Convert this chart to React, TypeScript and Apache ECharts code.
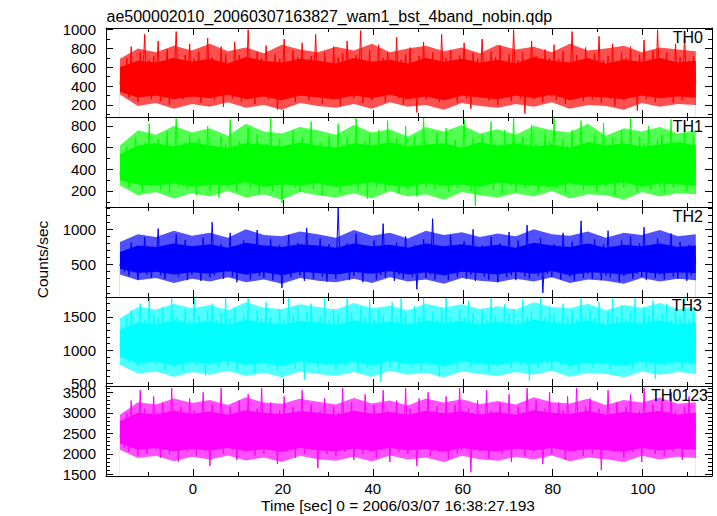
import React, { useEffect, useRef } from "react";
import * as echarts from "echarts";

// time of first bin and bin width (sec)
const T_START = -16.2;
const T_STEP = 0.5;
// dense core / fuzzy envelope of each light curve, sampled every 4 sec
const ENV_STEP = 4;

const th0 = [
  420, 610, 330, 700, 280, 820, 350, 640, 230, 760, 410, 950, 300, 680, 260, 720,
  390, 880, 240, 610, 330, 790, 200, 700, 450, 980, 310, 640, 260, 730, 380, 850,
  280, 690, 350, 770, 220, 600, 420, 910, 300, 710, 250, 650, 370, 820, 180, 740,
  330, 640, 270, 870, 400, 730, 240, 680, 310, 1000, 360, 620, 210, 760, 290, 700,
  440, 830, 260, 650, 320, 740, 150, 690, 380, 900, 270, 620, 340, 780, 230, 710,
  300, 860, 420, 640, 250, 720, 330, 950, 280, 670, 210, 760, 390, 630, 260, 820,
  340, 700, 190, 750, 300, 880, 410, 620, 270, 730, 350, 990, 220, 660, 310, 780,
  250, 640, 380, 840, 290, 700, 230, 760, 420, 610, 330, 920, 270, 680, 200, 740,
  360, 810, 280, 650, 120, 720, 340, 870, 260, 690, 400, 760, 300, 640, 230, 950,
  310, 700, 260, 780, 380, 620, 220, 730, 330, 860, 270, 670, 160, 750, 350, 690,
  280, 900, 410, 640, 250, 770, 320, 710, 200, 830, 370, 620, 290, 740, 240, 1000,
  340, 680, 270, 760, 110, 650, 390, 880, 260, 720, 310, 630, 230, 790, 360, 700,
  290, 840, 250, 690, 330, 770, 210, 640, 400, 980, 280, 730, 320, 660, 240, 810,
  370, 620, 260, 750, 300, 930, 220, 680, 350, 720, 270, 850, 190, 640, 330, 760,
  250, 700, 380, 820, 290, 660, 140, 740, 310, 890, 260, 630, 360, 780, 230, 1000,
  330, 690, 270, 760, 400, 640, 220, 850, 300, 710, 250, 950, 340, 670, 280, 720,
  430,
];
const th0CoreLo = [340, 280, 300, 260, 290, 270, 310, 260, 290, 250, 300, 280, 260, 300, 270, 310, 260, 290, 250, 300, 280, 260, 300, 270, 310, 250, 290, 280, 260, 300, 270, 290, 280];
const th0CoreHi = [600, 670, 650, 700, 660, 690, 640, 710, 670, 650, 690, 670, 640, 700, 660, 680, 640, 700, 660, 690, 650, 680, 640, 710, 670, 650, 700, 640, 680, 660, 700, 650, 670];
const th0OuterLo = [310, 190, 220, 160, 210, 180, 230, 170, 200, 150, 220, 190, 170, 210, 160, 230, 180, 200, 150, 220, 190, 170, 210, 180, 230, 160, 200, 190, 150, 220, 180, 210, 200];
const th0OuterHi = [690, 800, 760, 830, 780, 850, 770, 810, 750, 840, 790, 760, 820, 780, 850, 760, 800, 830, 770, 810, 750, 840, 790, 820, 760, 850, 780, 800, 830, 760, 810, 790, 770];

const th1 = [
  350, 520, 280, 610, 230, 470, 320, 700, 260, 560, 190, 640, 300, 820, 250, 590,
  330, 680, 210, 530, 290, 750, 180, 600, 360, 870, 240, 560, 310, 650, 220, 720,
  270, 580, 160, 690, 340, 520, 250, 800, 200, 610, 300, 560, 140, 700, 280, 640,
  230, 860, 320, 550, 190, 660, 260, 590, 350, 780, 220, 510, 290, 720, 170, 600,
  310, 640, 240, 880, 200, 570, 330, 680, 90, 620, 270, 540, 350, 760, 230, 610,
  190, 700, 300, 530, 260, 840, 220, 600, 310, 650, 160, 580, 280, 710, 340, 560,
  240, 820, 180, 620, 290, 690, 250, 540, 330, 870, 210, 600, 270, 660, 130, 730,
  300, 580, 230, 760, 340, 620, 200, 850, 260, 560, 310, 690, 180, 640, 290, 800,
  220, 600, 330, 710, 150, 560, 280, 880, 240, 630, 300, 540, 210, 740, 320, 610,
  260, 780, 190, 580, 310, 670, 230, 600, 350, 860, 270, 530, 200, 690, 60, 620,
  300, 720, 240, 560, 330, 840, 210, 640, 280, 590, 170, 760, 310, 620, 250, 880,
  190, 600, 290, 700, 230, 550, 340, 810, 260, 640, 200, 580, 320, 730, 240, 660,
  310, 870, 220, 590, 280, 680, 170, 620, 330, 760, 250, 540, 300, 850, 210, 600,
  270, 650, 350, 720, 200, 580, 290, 830, 240, 610, 320, 690, 160, 570, 280, 760,
  230, 620, 300, 880, 260, 540, 190, 700, 330, 640, 250, 800, 210, 590, 310, 680,
  240, 720, 180, 610, 290, 860, 230, 570, 320, 650, 260, 790, 200, 620, 300, 700,
  380,
];
const th1CoreLo = [300, 260, 250, 270, 240, 260, 250, 280, 240, 260, 250, 270, 240, 260, 280, 250, 240, 270, 250, 260, 240, 280, 260, 250, 240, 270, 250, 260, 280, 240, 270, 260, 250];
const th1CoreHi = [540, 620, 640, 610, 650, 620, 600, 640, 630, 610, 650, 620, 600, 640, 620, 650, 610, 630, 640, 600, 650, 620, 640, 610, 630, 600, 650, 620, 640, 610, 630, 650, 620];
const th1OuterLo = [250, 160, 190, 130, 180, 150, 200, 140, 170, 120, 190, 160, 140, 180, 130, 200, 150, 170, 120, 190, 160, 140, 180, 150, 200, 130, 170, 160, 120, 190, 150, 180, 170];
const th1OuterHi = [620, 760, 720, 800, 740, 780, 710, 820, 750, 730, 790, 760, 720, 810, 740, 770, 700, 790, 750, 810, 730, 770, 720, 800, 760, 740, 820, 710, 780, 750, 790, 730, 760];

const th2 = [
  480, 650, 400, 720, 340, 810, 450, 600, 290, 760, 420, 890, 360, 680, 310, 740,
  430, 1010, 350, 640, 300, 780, 470, 700, 380, 930, 330, 620, 410, 850, 280, 690,
  360, 760, 440, 650, 270, 880, 390, 720, 320, 1100, 350, 610, 430, 790, 300, 700,
  400, 950, 330, 680, 250, 740, 420, 840, 360, 640, 290, 770, 450, 990, 340, 660,
  310, 720, 390, 860, 280, 650, 420, 780, 170, 700, 370, 920, 320, 640, 400, 810,
  350, 690, 270, 1020, 410, 730, 300, 650, 380, 870, 330, 720, 260, 790, 430, 640,
  300, 1300, 360, 690, 420, 800, 280, 660, 340, 940, 390, 710, 250, 760, 370, 680,
  410, 840, 290, 650, 350, 1080, 320, 720, 400, 690, 270, 810, 360, 630, 300, 900,
  380, 710, 330, 780, 150, 670, 420, 860, 310, 700, 360, 1150, 290, 650, 400, 760,
  340, 680, 280, 920, 390, 740, 320, 640, 430, 830, 300, 700, 360, 1000, 270, 690,
  400, 770, 330, 660, 290, 890, 370, 720, 250, 800, 410, 650, 320, 960, 350, 710,
  280, 840, 390, 700, 330, 1060, 300, 670, 420, 750, 340, 880, 100, 690, 370, 640,
  320, 790, 410, 720, 290, 950, 360, 680, 330, 820, 270, 700, 400, 1120, 310, 660,
  370, 730, 300, 860, 420, 670, 280, 790, 350, 980, 320, 690, 390, 760, 260, 840,
  340, 700, 410, 900, 300, 650, 370, 800, 330, 1030, 280, 720, 380, 680, 310, 870,
  360, 750, 290, 690, 420, 940, 330, 710, 300, 820, 380, 660, 270, 780, 350, 700,
  520,
];
const th2CoreLo = [440, 380, 400, 360, 390, 370, 410, 360, 390, 350, 400, 380, 360, 400, 370, 410, 360, 390, 350, 400, 380, 360, 400, 370, 410, 350, 390, 380, 360, 400, 370, 390, 380];
const th2CoreHi = [680, 770, 750, 800, 760, 790, 740, 810, 770, 750, 790, 770, 740, 800, 760, 780, 740, 800, 760, 790, 750, 780, 740, 810, 770, 750, 800, 740, 780, 760, 800, 750, 770];
const th2OuterLo = [360, 280, 310, 240, 300, 260, 320, 250, 290, 230, 310, 270, 250, 300, 240, 320, 260, 290, 230, 310, 270, 250, 300, 260, 320, 240, 290, 270, 230, 310, 260, 300, 280];
const th2OuterHi = [820, 930, 890, 980, 910, 950, 880, 1000, 920, 900, 970, 930, 880, 990, 910, 950, 870, 980, 920, 960, 890, 940, 900, 1000, 930, 910, 970, 880, 950, 920, 990, 900, 930];

const th3 = [
  1050, 1350, 880, 1500, 820, 1600, 950, 1400, 760, 1700, 900, 1450, 800, 1800, 870, 1550,
  780, 1480, 920, 1650, 700, 1420, 850, 1780, 750, 1500, 980, 1380, 690, 1620, 830, 1460,
  880, 1800, 760, 1520, 920, 1400, 620, 1580, 810, 1700, 860, 1450, 740, 1560, 900, 1800,
  760, 1480, 840, 1640, 700, 1420, 890, 1530, 780, 1800, 830, 1380, 650, 1600, 920, 1470,
  810, 1720, 750, 1500, 880, 1390, 690, 1610, 840, 1450, 770, 1800, 900, 1540, 720, 1660,
  860, 1430, 560, 1580, 800, 1700, 870, 1420, 740, 1520, 910, 1800, 780, 1460, 830, 1620,
  700, 1530, 880, 1410, 760, 1800, 820, 1570, 900, 1440, 670, 1650, 850, 1500, 740, 1760,
  830, 1460, 780, 1610, 520, 1520, 880, 1400, 750, 1720, 860, 1480, 710, 1800, 820, 1550,
  900, 1420, 740, 1660, 810, 1500, 690, 1780, 860, 1440, 780, 1580, 920, 1470, 600, 1640,
  840, 1800, 760, 1510, 890, 1430, 720, 1620, 810, 1490, 870, 1740, 750, 1560, 830, 1450,
  780, 1600, 910, 1470, 680, 1800, 840, 1520, 760, 1410, 880, 1690, 800, 1540, 730, 1620,
  860, 1450, 770, 1760, 900, 1500, 540, 1580, 820, 1440, 740, 1800, 870, 1490, 790, 1650,
  710, 1540, 850, 1420, 780, 1700, 890, 1510, 750, 1600, 820, 1460, 680, 1800, 860, 1530,
  800, 1620, 740, 1480, 910, 1720, 770, 1440, 850, 1570, 700, 1800, 830, 1500, 760, 1680,
  880, 1460, 790, 1590, 720, 1800, 860, 1420, 810, 1640, 750, 1510, 900, 1750, 570, 1480,
  820, 1560, 760, 1700, 890, 1450, 780, 1620, 840, 1500, 710, 1800, 860, 1470, 800, 1580,
  1120,
];
const th3CoreLo = [900, 800, 830, 770, 820, 790, 840, 780, 810, 760, 830, 800, 780, 820, 770, 840, 790, 810, 760, 830, 800, 780, 820, 790, 840, 770, 810, 800, 760, 830, 790, 820, 800];
const th3CoreHi = [1300, 1420, 1390, 1450, 1400, 1440, 1380, 1460, 1410, 1390, 1440, 1420, 1380, 1450, 1400, 1430, 1380, 1450, 1410, 1440, 1390, 1430, 1380, 1460, 1420, 1390, 1450, 1380, 1430, 1400, 1450, 1390, 1420];
const th3OuterLo = [780, 650, 680, 600, 670, 630, 690, 610, 660, 590, 680, 640, 610, 670, 600, 690, 630, 660, 590, 680, 640, 610, 670, 630, 690, 600, 660, 640, 590, 680, 630, 670, 650];
const th3OuterHi = [1480, 1650, 1610, 1700, 1630, 1680, 1600, 1720, 1640, 1620, 1690, 1650, 1610, 1710, 1630, 1670, 1600, 1700, 1640, 1690, 1620, 1660, 1610, 1720, 1650, 1630, 1700, 1600, 1680, 1640, 1710, 1620, 1650];

const th0123 = [
  2400, 2800, 2150, 3000, 2050, 3300, 2250, 2900, 1950, 3550, 2200, 3100, 2000, 2850, 2300, 3400,
  2100, 3000, 1900, 3250, 2250, 2800, 2000, 3600, 2150, 2950, 1800, 3150, 2300, 2850, 2050, 3350,
  2200, 3050, 1950, 2900, 2350, 3500, 2050, 2800, 1700, 3200, 2150, 3000, 2250, 3600, 2000, 2900,
  2300, 3150, 2100, 2850, 1850, 3300, 2200, 3000, 2050, 3450, 2250, 2900, 1950, 3100, 2150, 3600,
  2000, 2950, 2300, 3250, 2100, 2850, 1750, 3050, 2200, 3400, 2050, 2900, 2250, 3150, 1900, 3000,
  2150, 3550, 2000, 2900, 2300, 3200, 2100, 2850, 1650, 3050, 2200, 3350, 2000, 2950, 2250, 3150,
  1950, 3000, 2150, 3600, 2050, 2900, 2300, 3250, 1850, 3050, 2200, 2850, 2000, 3450, 2150, 3000,
  2250, 3200, 1900, 2950, 2100, 3550, 2200, 3050, 1800, 2900, 2300, 3300, 2050, 2850, 2150, 3600,
  2000, 3100, 2250, 2900, 1700, 3350, 2100, 3000, 2200, 3500, 1950, 2850, 2300, 3150, 2050, 3000,
  2150, 3400, 1850, 2950, 2250, 3200, 2000, 3600, 2100, 2900, 2300, 3100, 1550, 3000, 2200, 3300,
  2050, 2950, 2250, 3550, 1900, 3050, 2150, 2900, 2300, 3250, 2000, 3000, 2200, 3450, 1800, 2900,
  2100, 3150, 2300, 3000, 1950, 3600, 2200, 2850, 2050, 3300, 2250, 2950, 1750, 3100, 2150, 3500,
  2000, 2900, 2250, 3250, 2100, 3050, 1850, 3400, 2200, 2950, 2050, 3600, 2300, 3000, 1950, 3150,
  2150, 3350, 2000, 2900, 2250, 3100, 1600, 3000, 2100, 3550, 2200, 2850, 2050, 3250, 2300, 3000,
  1900, 3150, 2200, 3450, 2050, 2900, 2250, 3050, 1800, 3600, 2150, 2950, 2300, 3200, 2000, 3000,
  2200, 3300, 1950, 2900, 2150, 3500, 2050, 3050, 2300, 2850, 1850, 3150, 2100, 3400, 2250, 2950,
  2600,
];
const th0123CoreLo = [2250, 2100, 2140, 2060, 2120, 2080, 2150, 2070, 2110, 2050, 2140, 2090, 2060, 2130, 2070, 2150, 2080, 2120, 2050, 2140, 2090, 2060, 2130, 2080, 2150, 2060, 2120, 2090, 2050, 2140, 2080, 2130, 2100];
const th0123CoreHi = [2800, 3000, 2960, 3050, 2980, 3030, 2950, 3060, 3000, 2970, 3040, 3000, 2950, 3050, 2980, 3020, 2950, 3050, 2990, 3030, 2960, 3020, 2950, 3060, 3000, 2970, 3050, 2950, 3020, 2990, 3050, 2960, 3000];
const th0123OuterLo = [2100, 1900, 1950, 1820, 1930, 1860, 1960, 1840, 1910, 1800, 1950, 1870, 1830, 1930, 1810, 1960, 1860, 1910, 1800, 1950, 1870, 1830, 1930, 1860, 1960, 1820, 1910, 1870, 1800, 1950, 1860, 1930, 1900];
const th0123OuterHi = [2950, 3260, 3200, 3350, 3240, 3310, 3190, 3380, 3250, 3220, 3340, 3270, 3200, 3360, 3230, 3300, 3180, 3350, 3250, 3330, 3210, 3290, 3200, 3380, 3260, 3230, 3340, 3190, 3310, 3250, 3370, 3220, 3260];

const panelNames = ["TH0", "TH1", "TH2", "TH3", "TH0123"];
const panelSeries = [th0, th1, th2, th3, th0123];
const panelCoreLo = [th0CoreLo, th1CoreLo, th2CoreLo, th3CoreLo, th0123CoreLo];
const panelCoreHi = [th0CoreHi, th1CoreHi, th2CoreHi, th3CoreHi, th0123CoreHi];
const panelOuterLo = [th0OuterLo, th1OuterLo, th2OuterLo, th3OuterLo, th0123OuterLo];
const panelOuterHi = [th0OuterHi, th1OuterHi, th2OuterHi, th3OuterHi, th0123OuterHi];
const panelColors = ["#ff0000", "#00ff00", "#0000ff", "#00ffff", "#ff00ff"];
const panelTints = ["#ff5050", "#50ff50", "#5050ff", "#50ffff", "#ff50ff"];

const xMin = -19.3;
const xMax = 115.4;
const xMajor = [0, 20, 40, 60, 80, 100];
const xMinor = [-10, 10, 30, 50, 70, 90, 110];

const yMins = [72, 52, 41, 460, 1459];
const yMaxs = [1018, 883, 1316, 1800, 3654];
const yMajor = [
  [200, 400, 600, 800, 1000],
  [200, 400, 600, 800],
  [500, 1000],
  [500, 1000, 1500],
  [1500, 2000, 2500, 3000, 3500],
];
const yMinor = [
  [100, 300, 500, 700, 900],
  [100, 300, 500, 700],
  [100, 200, 300, 400, 600, 700, 800, 900, 1100, 1200, 1300],
  [600, 700, 800, 900, 1100, 1200, 1300, 1400, 1600, 1700],
  [1600, 1700, 1800, 1900, 2100, 2200, 2300, 2400, 2600, 2700, 2800, 2900, 3100, 3200, 3300, 3400, 3600],
];

const titleText = "ae500002010_20060307163827_wam1_bst_4band_nobin.qdp";
const xTitle = "Time [sec] 0 = 2006/03/07 16:38:27.193";
const yTitle = "Counts/sec";

// layout (px)
const panelTops = [28, 117, 207, 297, 386];
const panelBottoms = [117, 207, 297, 386, 476];
const PLOT_LEFT = 106;
const PLOT_WIDTH = 606;
const labelPos = [
  { x: 703, y: 37 },
  { x: 703, y: 126 },
  { x: 703, y: 216 },
  { x: 702, y: 305 },
  { x: 708, y: 395 },
];

const FONT = "'Liberation Sans', Arial, Helvetica, sans-serif";

function envSeries(name: string, i: number, arr: number[], fill: string) {
  return {
    name,
    type: "line",
    xAxisIndex: i * 4,
    yAxisIndex: i * 4,
    data: arr.map((v, k) => [T_START + k * ENV_STEP, v]),
    showSymbol: false,
    symbol: "none",
    silent: true,
    lineStyle: { width: 0, opacity: 0 },
    areaStyle: { color: fill, opacity: 1, origin: "start" },
    z: 1,
  };
}

function buildOption() {
  const grid: any[] = [];
  const xAxis: any[] = [];
  const yAxis: any[] = [];
  const series: any[] = [];
  const fmt = (v: number) => String(v);

  panelNames.forEach((name, i) => {
    grid.push({
      left: PLOT_LEFT,
      width: PLOT_WIDTH,
      top: panelTops[i],
      height: panelBottoms[i] - panelTops[i],
      show: false,
    });
    const xCommon = {
      gridIndex: i,
      type: "value",
      min: xMin,
      max: xMax,
      z: 10,
      splitLine: { show: false },
    };
    const axLine = { show: true, onZero: false, lineStyle: { color: "#000", width: 1 } };
    const noLine = { show: false, onZero: false };
    xAxis.push({
      ...xCommon,
      position: "bottom",
      axisLine: axLine,
      axisTick: { show: true, inside: true, length: 7, customValues: xMajor, lineStyle: { color: "#000" } },
      axisLabel: {
        show: i === panelNames.length - 1,
        customValues: xMajor,
        formatter: fmt,
        margin: 5,
        color: "#000",
        fontSize: 15,
        fontFamily: FONT,
      },
    });
    xAxis.push({
      ...xCommon,
      position: "bottom",
      axisLine: noLine,
      axisTick: { show: true, inside: true, length: 4, customValues: xMinor, lineStyle: { color: "#000" } },
      axisLabel: { show: false },
    });
    xAxis.push({
      ...xCommon,
      position: "top",
      axisLine: axLine,
      axisTick: { show: true, inside: true, length: 7, customValues: xMajor, lineStyle: { color: "#000" } },
      axisLabel: { show: false },
    });
    xAxis.push({
      ...xCommon,
      position: "top",
      axisLine: noLine,
      axisTick: { show: true, inside: true, length: 4, customValues: xMinor, lineStyle: { color: "#000" } },
      axisLabel: { show: false },
    });

    const yCommon = {
      gridIndex: i,
      type: "value",
      min: yMins[i],
      max: yMaxs[i],
      z: 10,
      splitLine: { show: false },
    };
    yAxis.push({
      ...yCommon,
      position: "left",
      axisLine: axLine,
      axisTick: { show: true, inside: true, length: 7, customValues: yMajor[i], lineStyle: { color: "#000" } },
      axisLabel: {
        show: true,
        customValues: yMajor[i],
        formatter: fmt,
        margin: 10,
        color: "#000",
        fontSize: 15,
        fontFamily: FONT,
      },
    });
    yAxis.push({
      ...yCommon,
      position: "left",
      axisLine: noLine,
      axisTick: { show: true, inside: true, length: 4, customValues: yMinor[i], lineStyle: { color: "#000" } },
      axisLabel: { show: false },
    });
    yAxis.push({
      ...yCommon,
      position: "right",
      axisLine: axLine,
      axisTick: { show: true, inside: true, length: 7, customValues: yMajor[i], lineStyle: { color: "#000" } },
      axisLabel: { show: false },
    });
    yAxis.push({
      ...yCommon,
      position: "right",
      axisLine: noLine,
      axisTick: { show: true, inside: true, length: 4, customValues: yMinor[i], lineStyle: { color: "#000" } },
      axisLabel: { show: false },
    });

    const color = panelColors[i];
    const tint = panelTints[i];
    // layered fills: fuzzy envelope (tint), dense core (full colour),
    // tint again below the core, blank below the envelope
    series.push(envSeries(name + " envelope", i, panelOuterHi[i], tint));
    series.push(envSeries(name + " core", i, panelCoreHi[i], color));
    series.push(envSeries(name + " core lower", i, panelCoreLo[i], tint));
    series.push(envSeries(name + " envelope lower", i, panelOuterLo[i], "#ffffff"));

    const values = panelSeries[i];
    series.push({
      name,
      type: "line",
      xAxisIndex: i * 4,
      yAxisIndex: i * 4,
      data: values.map((v, k) => [T_START + k * T_STEP, v]),
      showSymbol: false,
      symbol: "none",
      clip: true,
      silent: true,
      lineStyle: { color, width: 1 },
      itemStyle: { color },
      z: 2,
    });
  });

  const graphic: any[] = [
    {
      type: "text",
      x: 106.5,
      y: 16,
      style: { text: titleText, font: `16px ${FONT}`, fill: "#000", textAlign: "left", textVerticalAlign: "middle" },
    },
    {
      type: "text",
      x: 398,
      y: 505,
      style: { text: xTitle, font: `15.5px ${FONT}`, fill: "#000", textAlign: "center", textVerticalAlign: "middle" },
    },
    {
      type: "text",
      x: 42,
      y: 259.5,
      rotation: Math.PI / 2,
      style: { text: yTitle, font: `15.5px ${FONT}`, fill: "#000", textAlign: "center", textVerticalAlign: "middle" },
    },
    ...panelNames.map((n, i) => ({
      type: "text",
      x: labelPos[i].x,
      y: labelPos[i].y,
      z: 10,
      style: { text: n, font: `16px ${FONT}`, fill: "#000", textAlign: "right", textVerticalAlign: "middle" },
    })),
  ];

  return {
    animation: false,
    backgroundColor: "#ffffff",
    grid,
    xAxis,
    yAxis,
    series,
    graphic,
  };
}

export default function App() {
  const ref = useRef<HTMLDivElement>(null);
  useEffect(() => {
    if (!ref.current) return;
    const chart = echarts.init(ref.current, undefined, { renderer: "svg" });
    chart.setOption(buildOption() as any);
    return () => chart.dispose();
  }, []);
  return (
    <div
      ref={ref}
      style={{ position: "absolute", left: 0, top: 0, width: 717, height: 516, background: "#fff" }}
    />
  );
}
